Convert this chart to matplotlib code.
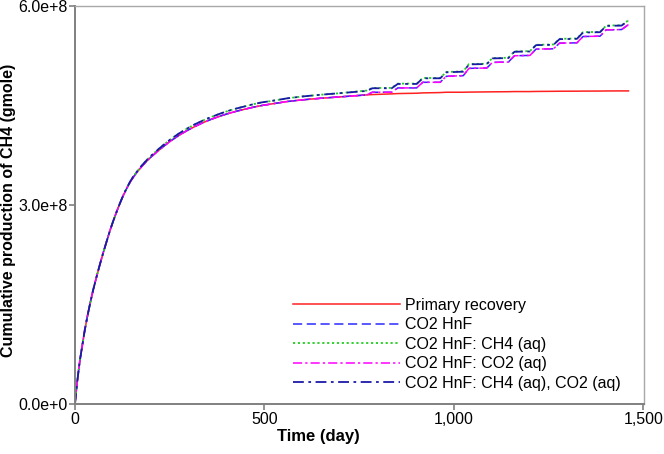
import matplotlib
matplotlib.use("Agg")
import matplotlib.pyplot as plt
from matplotlib.ticker import FixedLocator, FixedFormatter

plt.rcParams['font.family'] = ['Liberation Sans', 'DejaVu Sans']

# time (day)
t_days = [0, 3, 6, 10, 13, 20, 26, 33, 40, 48, 57, 66, 75, 84, 92, 101, 110, 119, 128, 137,
          145, 154, 163, 176, 189, 202, 216, 233, 251, 273, 295, 317, 339, 361, 383, 405,
          427, 449, 471, 493, 515, 560, 600, 650, 700, 770,
          785, 836, 852, 902, 918, 964, 980, 1025, 1040, 1087, 1102, 1144, 1160, 1201, 1217,
          1263, 1279, 1325, 1341, 1386, 1402, 1443, 1461]

# cumulative CH4 production, 1e6 gmole
primary = [0, 18, 34, 53, 66, 91, 112, 133, 152, 172, 192, 211, 229, 246, 261, 276, 290, 303,
           315, 325.5, 334, 342, 349, 358, 366, 373, 380, 388, 396, 404.5, 412, 418.5, 424.5,
           429.5, 434, 438, 441.5, 444.5, 447.5, 450, 452, 456, 458.5, 461, 463, 466,
           466.5, 467.5, 468, 468.5, 469, 469.5, 470, 470, 470.2, 470.5, 470.6, 470.8, 471,
           471, 471.2, 471.4, 471.5, 471.6, 471.7, 471.8, 471.9, 472, 472]
co2_hnf = [0, 18, 34, 53, 66, 91, 112, 133, 152, 172, 192, 211, 229, 246, 261, 276, 290, 303,
           315, 325.5, 334, 342, 349, 358, 366, 373, 380, 388, 396, 404.5, 412, 418.5, 424.5,
           429.5, 434, 438, 441.5, 444.5, 447.5, 450, 452, 456, 458.5, 461, 463, 466,
           470, 470, 476.5, 476.5, 485, 485, 494, 495, 506, 506.5, 515, 515.5, 525, 525.5,
           535, 535.5, 544, 544.5, 554, 554.5, 564, 564.5, 572]
co2_hnf_ch4aq = [0, 18, 34, 53, 66, 91, 112, 133, 152, 172, 192, 211, 229, 246, 261, 276, 290,
                 303.2, 315.5, 326.2, 334.8, 343, 350, 359.3, 367.5, 374.8, 382, 390.3, 398.5,
                 407.3, 415, 421.8, 427.7, 433, 437.7, 442, 445.6, 448.8, 452, 454.7, 456.5,
                 460.8, 463.6, 466.3, 468.6, 472.5,
                 476.5, 476.5, 483, 483, 491.5, 491.5, 500.5, 501.5, 512.5, 513, 521.5, 522,
                 531.5, 532, 541.5, 542, 550.5, 551, 560.5, 561, 570.5, 571, 578.5]
co2_hnf_co2aq = [0, 18, 34, 53, 66, 91, 112, 133, 152, 172, 192, 211, 229, 246, 261, 276, 290,
                 303, 315, 325.5, 334, 342, 349, 358, 366, 373, 380, 388, 396, 404.5, 412,
                 418.5, 424.5, 429.5, 434, 438, 441.5, 444.5, 447.5, 450, 452, 456, 458.5, 461,
                 463, 466,
                 470, 470, 476.5, 476.5, 485, 485, 494, 495, 506, 506.5, 515, 515.5, 525,
                 525.5, 535, 535.5, 544, 544.5, 554, 554.5, 564, 564.5, 572]
co2_hnf_both = [0, 18, 34, 53, 66, 91, 112, 133, 152, 172, 192, 211, 229, 246, 261, 276, 290,
                303.2, 315.5, 326.2, 334.8, 343, 350, 359.3, 367.5, 374.8, 382, 390.3, 398.5,
                407.3, 415, 421.8, 427.7, 433, 437.7, 442, 445.6, 448.8, 452, 454.7, 456.5,
                460.8, 463.6, 466.3, 468.6, 472,
                476, 476, 482.5, 482.5, 491, 491, 500, 501, 512, 512.5, 521, 521.5, 531, 531.5,
                541, 541.5, 550, 550.5, 560, 560.5, 570, 570.5, 578]

labels = ["Primary recovery", "CO2 HnF", "CO2 HnF: CH4 (aq)", "CO2 HnF: CO2 (aq)",
          "CO2 HnF: CH4 (aq), CO2 (aq)"]
x_ticks = [0, 500, 1000, 1500]
x_ticklabels = ["0", "500", "1,000", "1,500"]
y_ticks = [0, 3e8, 6e8]
y_ticklabels = ["0.0e+0", "3.0e+8", "6.0e+8"]

fig = plt.figure(figsize=(6.64, 4.54), dpi=100)
ax = fig.add_axes([75/664, 1 - 404/454, (644 - 75)/664, (404 - 6)/454])

sc = 1e6
ax.plot(t_days, [v * sc for v in primary], color='#ff2020', lw=1.1, label=labels[0])
ax.plot(t_days, [v * sc for v in co2_hnf], color='#2a2aff', lw=1.1, dashes=(6, 3), label=labels[1])
ax.plot(t_days, [v * sc for v in co2_hnf_ch4aq], color='#22cc22', lw=1.3, dashes=(1.2, 1.5), label=labels[2])
ax.plot(t_days, [v * sc for v in co2_hnf_co2aq], color='#ff00ff', lw=1.1, dashes=(6, 2, 1.5, 2), label=labels[3])
ax.plot(t_days, [v * sc for v in co2_hnf_both], color='#1a1aa8', lw=1.3, dashes=(6, 2.5, 1.5, 2.5), label=labels[4])

ax.set_xlim(0, 1502)
ax.set_ylim(0, 6e8)
ax.xaxis.set_major_locator(FixedLocator(x_ticks))
ax.xaxis.set_major_formatter(FixedFormatter(x_ticklabels))
ax.yaxis.set_major_locator(FixedLocator(y_ticks))
ax.yaxis.set_major_formatter(FixedFormatter(y_ticklabels))
ax.tick_params(axis='both', direction='out', length=4.5, width=1.2, color='#808080',
               labelsize=11.5, pad=1)
for side in ['left', 'bottom']:
    ax.spines[side].set_color('#808080')
    ax.spines[side].set_linewidth(1.4)
for side in ['top', 'right']:
    ax.spines[side].set_color('#a8a8a8')
    ax.spines[side].set_linewidth(1.0)

fig.text(318/664, 1 - 437/454, "Time (day)", ha='center', va='center',
         fontsize=12, fontweight='bold')
fig.text(9/664, 1 - 210/454, "Cumulative production of CH4 (gmole)", ha='center', va='center',
         rotation=90, fontsize=11.5, fontweight='bold')

leg = ax.legend(loc='upper left', bbox_to_anchor=(293/664, 1 - 298/454),
                bbox_transform=fig.transFigure, frameon=False, fontsize=11.5,
                handlelength=6.7, handletextpad=0.3, labelspacing=0.28, borderpad=0,
                borderaxespad=0)

fig.savefig("out.png", dpi=100)
